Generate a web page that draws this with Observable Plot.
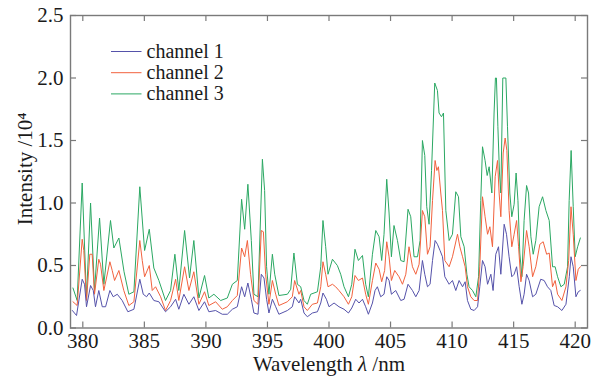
<!DOCTYPE html>
<html><head><meta charset="utf-8">
<script src="https://cdn.jsdelivr.net/npm/d3@7"></script>
<script src="https://cdn.jsdelivr.net/npm/@observablehq/plot@0.6"></script>
<style>body{margin:0;background:#fff}</style>
</head><body><div id="chart"></div>
<script>
const seriesNames = ["channel 1", "channel 2", "channel 3"];
const seriesColors = ["#5552aa", "#f2623e", "#2ba863"];
const xTicks = [380, 385, 390, 395, 400, 405, 410, 415, 420];
const yTicks = [0, 0.5, 1.0, 1.5, 2.0, 2.5];
const xLabel = "Wavelength λ /nm";
const yLabel = "Intensity /10⁴";

const ch1Wave = [379.15,379.49,379.95,380.14,380.30,380.63,380.85,381.03,381.30,381.58,381.85,382.20,382.47,382.80,383.20,383.66,384.15,384.63,384.91,385.18,385.40,385.77,386.18,386.72,387.13,387.54,387.80,388.21,388.62,389.02,389.43,389.89,390.24,390.79,391.33,391.74,392.15,392.55,392.90,393.15,393.41,393.69,393.90,394.23,394.50,394.72,394.93,395.12,395.40,395.67,395.93,396.62,397.02,397.21,397.56,397.70,397.97,398.24,398.65,399.06,399.33,399.51,399.79,400.00,400.41,400.81,401.22,401.58,401.85,402.17,402.44,402.72,402.98,403.20,403.53,403.74,403.93,404.20,404.47,404.69,404.88,405.07,405.42,405.83,406.10,406.42,406.78,407.05,407.32,407.59,407.78,408.00,408.21,408.41,408.62,408.81,409.02,409.22,409.41,409.76,410.03,410.30,410.57,410.85,411.06,411.25,411.52,411.79,412.07,412.25,412.47,412.68,412.88,413.15,413.33,413.55,413.77,413.96,414.23,414.42,414.63,414.85,415.04,415.24,415.45,415.67,415.85,416.05,416.26,416.54,416.80,417.20,417.48,417.75,418.02,418.29,418.57,418.92,419.25,419.52,419.66,419.84,420.06,420.25,420.41];
const ch1Int = [0.14,0.10,0.39,0.35,0.17,0.34,0.30,0.17,0.30,0.17,0.17,0.30,0.25,0.27,0.22,0.13,0.15,0.39,0.27,0.25,0.28,0.22,0.21,0.13,0.17,0.23,0.15,0.27,0.19,0.25,0.14,0.21,0.13,0.14,0.11,0.11,0.15,0.17,0.33,0.25,0.36,0.23,0.12,0.11,0.43,0.40,0.23,0.12,0.23,0.17,0.11,0.14,0.17,0.25,0.20,0.23,0.12,0.09,0.12,0.13,0.20,0.28,0.23,0.17,0.20,0.17,0.15,0.12,0.16,0.23,0.20,0.23,0.17,0.11,0.20,0.30,0.33,0.25,0.27,0.41,0.38,0.27,0.30,0.22,0.23,0.35,0.30,0.25,0.30,0.54,0.43,0.33,0.35,0.54,0.70,0.67,0.62,0.57,0.41,0.35,0.38,0.30,0.38,0.33,0.37,0.22,0.15,0.14,0.17,0.33,0.54,0.49,0.35,0.43,0.30,0.59,0.65,0.43,0.83,0.75,0.57,0.41,0.43,0.49,0.33,0.19,0.27,0.43,0.38,0.25,0.27,0.39,0.38,0.33,0.30,0.18,0.17,0.14,0.19,0.41,0.57,0.49,0.25,0.29,0.30];

const ch2Wave = [379.20,379.54,379.95,380.08,380.30,380.57,380.76,380.95,381.30,381.44,381.71,382.20,382.39,382.58,382.93,383.33,383.74,384.15,384.63,384.83,385.02,385.40,385.64,385.91,386.32,386.72,387.13,387.54,387.80,388.27,388.62,389.02,389.43,389.89,390.24,390.79,391.33,391.74,392.15,392.55,392.90,393.15,393.37,393.63,393.90,394.23,394.50,394.67,394.85,395.12,395.40,395.67,395.93,396.62,397.02,397.21,397.56,397.70,397.97,398.24,398.65,399.06,399.33,399.51,399.73,399.92,400.28,400.54,400.81,401.22,401.58,401.85,402.11,402.39,402.72,402.98,403.20,403.53,403.80,404.07,404.28,404.52,404.69,404.88,405.07,405.34,405.69,405.97,406.24,406.50,406.78,407.05,407.32,407.59,407.78,408.00,408.21,408.41,408.62,408.76,408.89,409.08,409.22,409.41,409.76,410.03,410.44,410.63,410.85,411.06,411.25,411.52,411.79,412.07,412.25,412.47,412.68,412.88,413.07,413.28,413.50,413.69,413.82,413.96,414.15,414.31,414.45,414.63,414.85,415.04,415.24,415.40,415.59,415.77,416.05,416.26,416.54,416.80,417.13,417.40,417.68,417.89,418.16,418.37,418.57,418.92,419.25,419.47,419.66,419.84,420.06,420.25,420.42];
const ch2Int = [0.21,0.18,0.71,0.62,0.22,0.59,0.59,0.27,0.55,0.51,0.30,0.53,0.46,0.38,0.46,0.30,0.18,0.21,0.70,0.54,0.41,0.50,0.30,0.33,0.25,0.14,0.22,0.39,0.22,0.49,0.30,0.45,0.19,0.29,0.18,0.21,0.15,0.17,0.22,0.26,0.64,0.57,0.70,0.43,0.22,0.19,0.78,0.77,0.43,0.19,0.38,0.27,0.18,0.21,0.25,0.38,0.27,0.30,0.17,0.14,0.19,0.20,0.33,0.53,0.43,0.33,0.35,0.33,0.30,0.25,0.19,0.25,0.42,0.38,0.40,0.27,0.19,0.38,0.52,0.47,0.37,0.46,0.69,0.57,0.38,0.46,0.41,0.35,0.43,0.65,0.49,0.43,0.51,0.94,0.89,0.59,0.65,1.02,1.34,1.26,1.29,1.08,0.94,0.54,0.49,0.57,0.75,0.65,0.57,0.49,0.33,0.25,0.22,0.22,0.49,1.05,0.89,0.75,0.81,0.65,1.21,1.34,1.08,0.89,1.40,1.52,1.42,0.94,0.65,0.75,0.86,0.65,0.37,0.49,0.78,0.65,0.41,0.49,0.67,0.69,0.59,0.60,0.33,0.38,0.27,0.22,0.33,0.54,0.97,0.75,0.38,0.47,0.49];

const ch3Wave = [379.20,379.54,379.95,380.30,380.63,380.95,381.36,381.71,382.25,382.52,382.93,383.35,383.74,384.15,384.63,385.02,385.40,385.77,386.18,386.72,387.13,387.48,387.80,388.27,388.67,389.02,389.43,389.89,390.24,390.65,391.20,391.74,392.15,392.55,392.90,393.15,393.41,393.69,393.90,394.23,394.59,394.77,394.93,395.12,395.40,395.59,395.93,396.62,396.89,397.15,397.43,397.70,397.97,398.24,398.51,399.06,399.33,399.51,399.73,399.92,400.28,400.68,400.95,401.22,401.58,401.85,402.11,402.39,402.72,402.98,403.20,403.53,403.80,404.07,404.28,404.47,404.69,404.88,405.07,405.28,405.56,405.83,406.10,406.42,406.64,406.91,407.19,407.40,407.59,407.78,407.94,408.13,408.33,408.59,408.81,408.94,409.14,409.30,409.49,409.76,410.03,410.30,410.52,410.71,410.98,411.20,411.38,411.66,411.93,412.15,412.33,412.47,412.68,412.85,413.01,413.23,413.41,413.52,413.60,413.72,413.85,413.96,414.12,414.37,414.50,414.69,414.85,415.04,415.20,415.35,415.50,415.67,415.85,416.05,416.21,416.40,416.59,416.80,417.07,417.35,417.62,417.89,418.16,418.37,418.57,418.84,419.11,419.38,419.51,419.67,419.84,420.00,420.20,420.42];
const ch3Int = [0.32,0.22,1.16,0.24,1.00,0.30,0.88,0.35,0.86,0.64,0.72,0.45,0.27,0.29,1.13,0.62,0.79,0.48,0.38,0.22,0.30,0.59,0.30,0.78,0.40,0.70,0.24,0.42,0.24,0.27,0.22,0.24,0.35,0.38,1.03,0.79,1.15,0.70,0.27,0.25,1.35,1.10,0.49,0.27,0.59,0.43,0.26,0.27,0.31,0.60,0.35,0.33,0.22,0.19,0.27,0.29,0.49,0.86,0.65,0.43,0.55,0.50,0.43,0.33,0.25,0.35,0.63,0.54,0.58,0.35,0.25,0.59,0.78,0.73,0.54,0.75,1.19,0.92,0.57,0.82,0.70,0.54,0.53,0.95,0.89,0.57,0.57,0.70,1.50,1.38,0.97,0.83,1.26,1.96,1.90,1.72,1.69,1.72,0.94,0.70,0.75,1.09,1.05,0.73,0.65,0.43,0.33,0.30,0.25,0.41,1.02,1.45,1.34,1.22,1.29,1.08,1.72,2.00,2.00,1.61,1.24,1.08,2.00,2.00,1.61,1.08,0.89,0.99,1.24,1.02,0.60,0.41,0.86,1.14,1.08,0.73,0.59,0.70,0.97,1.05,0.94,0.86,0.49,0.49,0.41,0.33,0.35,0.49,1.02,1.42,0.97,0.57,0.65,0.72];

const seriesData = [[ch1Wave, ch1Int], [ch2Wave, ch2Int], [ch3Wave, ch3Int]];
const rows = [];
seriesData.forEach(([w, v], i) => w.forEach((x, j) => rows.push({series: seriesNames[i], wave: x, value: v[j]})));

const W = 594, H = 376, mL = 70, mR = 7, mT = 15, mB = 48.5;
const fw = W - mL - mR, fh = H - mT - mB, tk = 6;
const frameColor = "#7a7a7a";
const font = "'Liberation Serif', 'DejaVu Serif', serif";

const drawOrder = ["channel 3", "channel 2", "channel 1"];
const plot = Plot.plot({
  width: W, height: H,
  marginLeft: mL, marginRight: mR, marginTop: mT, marginBottom: mB,
  style: {fontFamily: font, fontSize: "21px", background: "#fff", color: "#1a1a1a"},
  x: {domain: [379, 421]},
  y: {domain: [0, 2.5]},
  color: {domain: seriesNames, range: seriesColors},
  marks: [
    ...drawOrder.map(s => Plot.line(rows.filter(d => d.series === s), {x: "wave", y: "value", stroke: "series", strokeWidth: 1})),
    Plot.ruleX(xTicks, {x: d => d, insetTop: fh - tk, stroke: frameColor, strokeWidth: 1.2}),
    Plot.ruleX(xTicks, {x: d => d, insetBottom: fh - tk, stroke: frameColor, strokeWidth: 1.2}),
    Plot.ruleY(yTicks, {y: d => d, insetRight: fw - tk, stroke: frameColor, strokeWidth: 1.2}),
    Plot.ruleY(yTicks, {y: d => d, insetLeft: fw - tk, stroke: frameColor, strokeWidth: 1.2}),
    Plot.frame({stroke: frameColor, strokeWidth: 1.4}),
    Plot.axisX({ticks: xTicks, tickSize: 0, tickPadding: 5, label: null, fontSize: 21, tickFormat: d3.format("d")}),
    Plot.axisY({ticks: yTicks, tickSize: 0, tickPadding: 7, label: null, fontSize: 21, tickFormat: d3.format(".1f")}),
    Plot.text([xLabel], {text: d => d, frameAnchor: "bottom", dy: 43, fontSize: 21, textAnchor: "middle"}),
    Plot.text([yLabel], {text: d => d, frameAnchor: "left", dx: -45, dy: -3, rotate: -90, fontSize: 21, textAnchor: "middle"})
  ]
});
document.getElementById("chart").appendChild(plot);

// italic lambda in x label
d3.select(plot).selectAll("text").each(function() {
  if (this.textContent === xLabel) {
    const t = d3.select(this);
    const parts = xLabel.split("λ");
    t.text(null);
    t.append("tspan").text(parts[0]);
    t.append("tspan").attr("font-style", "italic").text("λ");
    t.append("tspan").text(parts[1]);
  }
});

// legend inside the frame
const svg = d3.select(plot);
const lg = svg.append("g").attr("font-size", 20).attr("text-anchor", "start");
seriesNames.forEach((name, i) => {
  const y = 51.5 + i * 21.2;
  lg.append("line").attr("x1", 111).attr("x2", 141.5).attr("y1", y).attr("y2", y)
    .attr("stroke", seriesColors[i]).attr("stroke-width", 1);
  lg.append("text").attr("x", 146.5).attr("y", y + 6).attr("fill", "#1a1a1a").text(name);
});
</script>
</body></html>
